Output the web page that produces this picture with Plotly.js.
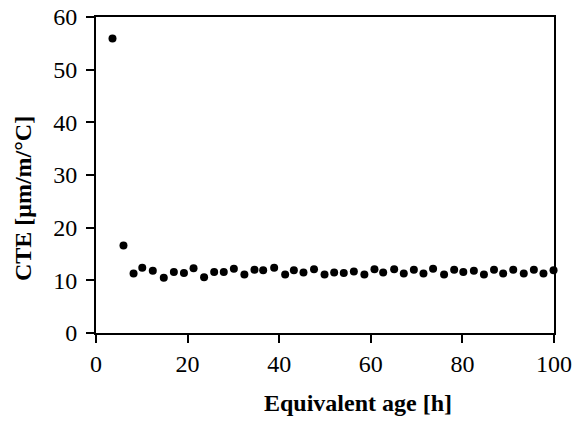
<!DOCTYPE html>
<html>
<head>
<meta charset="utf-8">
<script src="https://cdn.plot.ly/plotly-3.0.1.min.js"></script>
<style>html,body{margin:0;padding:0;background:#fff;}#chart{width:573px;height:421px;}</style>
</head>
<body>
<div id="chart"></div>
<script>
const ageHours = [3.6, 6.0, 8.2, 10.1, 12.4, 14.8, 17.0, 19.2, 21.3, 23.6, 25.8, 27.9, 30.1, 32.4, 34.6, 36.5, 38.9, 41.3, 43.2, 45.3, 47.6, 49.9, 52.0, 54.1, 56.3, 58.6, 60.8, 62.7, 65.1, 67.2, 69.4, 71.5, 73.6, 76.0, 78.2, 80.2, 82.5, 84.7, 86.9, 88.9, 91.1, 93.4, 95.6, 97.7, 99.9];
const cteValues = [55.9, 16.6, 11.3, 12.4, 11.8, 10.5, 11.6, 11.4, 12.3, 10.6, 11.6, 11.6, 12.2, 11.1, 12.0, 11.9, 12.4, 11.1, 11.9, 11.5, 12.1, 11.1, 11.5, 11.4, 11.7, 11.1, 12.1, 11.5, 12.1, 11.3, 12.0, 11.3, 12.2, 11.1, 12.0, 11.6, 11.8, 11.1, 12.0, 11.3, 12.0, 11.3, 12.0, 11.3, 11.9];
const xTitle = "Equivalent age [h]";
const yTitle = "CTE [μm/m/°C]";

const fontFam = "'Liberation Serif', serif";
const trace = {
  x: ageHours, y: cteValues, type: "scatter", mode: "markers",
  marker: {color: "#000", size: 8}, cliponaxis: false, hoverinfo: "none"
};
const axisCommon = {
  showline: true, linecolor: "#000", linewidth: 2, mirror: true,
  ticks: "outside", ticklen: 8, tickwidth: 2, tickcolor: "#000",
  showgrid: false, zeroline: false,
  tickfont: {family: fontFam, size: 24, color: "#000"}
};
const layout = {
  width: 573, height: 421,
  margin: {l: 96, r: 19, t: 17, b: 88},
  paper_bgcolor: "#fff", plot_bgcolor: "#fff",
  showlegend: false,
  xaxis: Object.assign({}, axisCommon, {range: [0, 100], tickvals: [0, 20, 40, 60, 80, 100], ticklabelstandoff: 0}),
  yaxis: Object.assign({}, axisCommon, {range: [0, 60], tickvals: [0, 10, 20, 30, 40, 50, 60], ticklabelstandoff: 4}),
  annotations: [
    {text: "<b>" + xTitle + "</b>", xref: "paper", yref: "paper", x: (357.5 - 96) / 458, y: 0,
     yshift: -(403 - 333), xanchor: "center", yanchor: "middle", showarrow: false,
     font: {family: fontFam, size: 24, color: "#000"}},
    {text: "<b>" + yTitle + "</b>", xref: "paper", yref: "paper", x: 0, xshift: -(96 - 23),
     y: (333 - 199) / 316, xanchor: "center", yanchor: "middle", textangle: -90, showarrow: false,
     font: {family: fontFam, size: 24, color: "#000"}}
  ]
};
Plotly.newPlot("chart", [trace], layout, {staticPlot: true, displayModeBar: false});
</script>
</body>
</html>
